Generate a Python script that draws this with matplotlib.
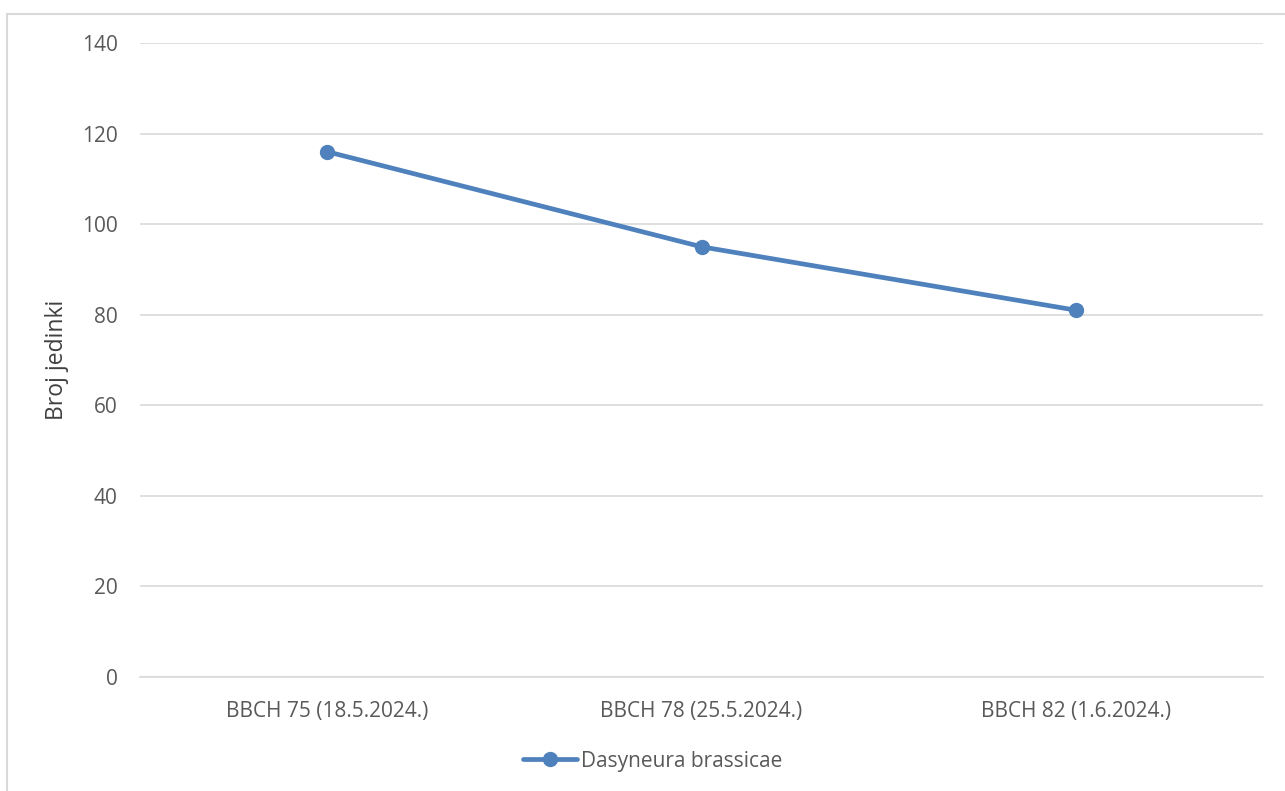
import matplotlib
matplotlib.use("Agg")
import matplotlib.pyplot as plt
from matplotlib.patches import Rectangle

categories = ["BBCH 75 (18.5.2024.)", "BBCH 78 (25.5.2024.)", "BBCH 82 (1.6.2024.)"]
values = [116, 95, 81]
series_name = "Dasyneura brassicae"
y_label = "Broj jedinki"
y_ticks = [0, 20, 40, 60, 80, 100, 120, 140]

W, H = 1285, 791
fig = plt.figure(figsize=(W / 100, H / 100), dpi=100)
plt.rcParams['font.family'] = ['Open Sans', 'DejaVu Sans']

# outer chart frame
fig.patches.append(Rectangle((7 / W, -0.1), 1.2, (H - 14) / H + 0.1,
                             transform=fig.transFigure, fill=False,
                             edgecolor='#d9d9d9', linewidth=1.5))

ax = fig.add_axes([140 / W, 1 - 677 / H, (1263 - 140) / W, (677 - 43) / H])
x = list(range(len(categories)))
color = '#4f81bd'
ax.plot(x, values, color=color, linewidth=3.4, marker='o', markersize=10,
        label=series_name, solid_capstyle='round')
ax.set_xlim(-0.5, len(categories) - 0.5)
ax.set_ylim(0, 140)
ax.set_yticks(y_ticks)
ax.set_xticks(x)
ax.set_xticklabels(categories)
ax.grid(axis='y', color='#d9d9d9', linewidth=1.2)
ax.set_axisbelow(True)
for s in ['top', 'right', 'left']:
    ax.spines[s].set_visible(False)
ax.spines['bottom'].set_color('#d9d9d9')
ax.spines['bottom'].set_linewidth(1.2)
ax.tick_params(axis='both', length=0, colors='#595959')
ax.tick_params(axis='y', labelsize=15, pad=16)
ax.tick_params(axis='x', labelsize=15, pad=17)
ax.set_ylabel(y_label, fontsize=16.5, color='#404040', labelpad=9)

leg = fig.legend(loc='center', bbox_to_anchor=(653 / W, 1 - 761 / H), frameon=False,
                 fontsize=15, handlelength=2.6, labelcolor='#595959', handletextpad=0.2)

fig.savefig("out.png", dpi=100)
